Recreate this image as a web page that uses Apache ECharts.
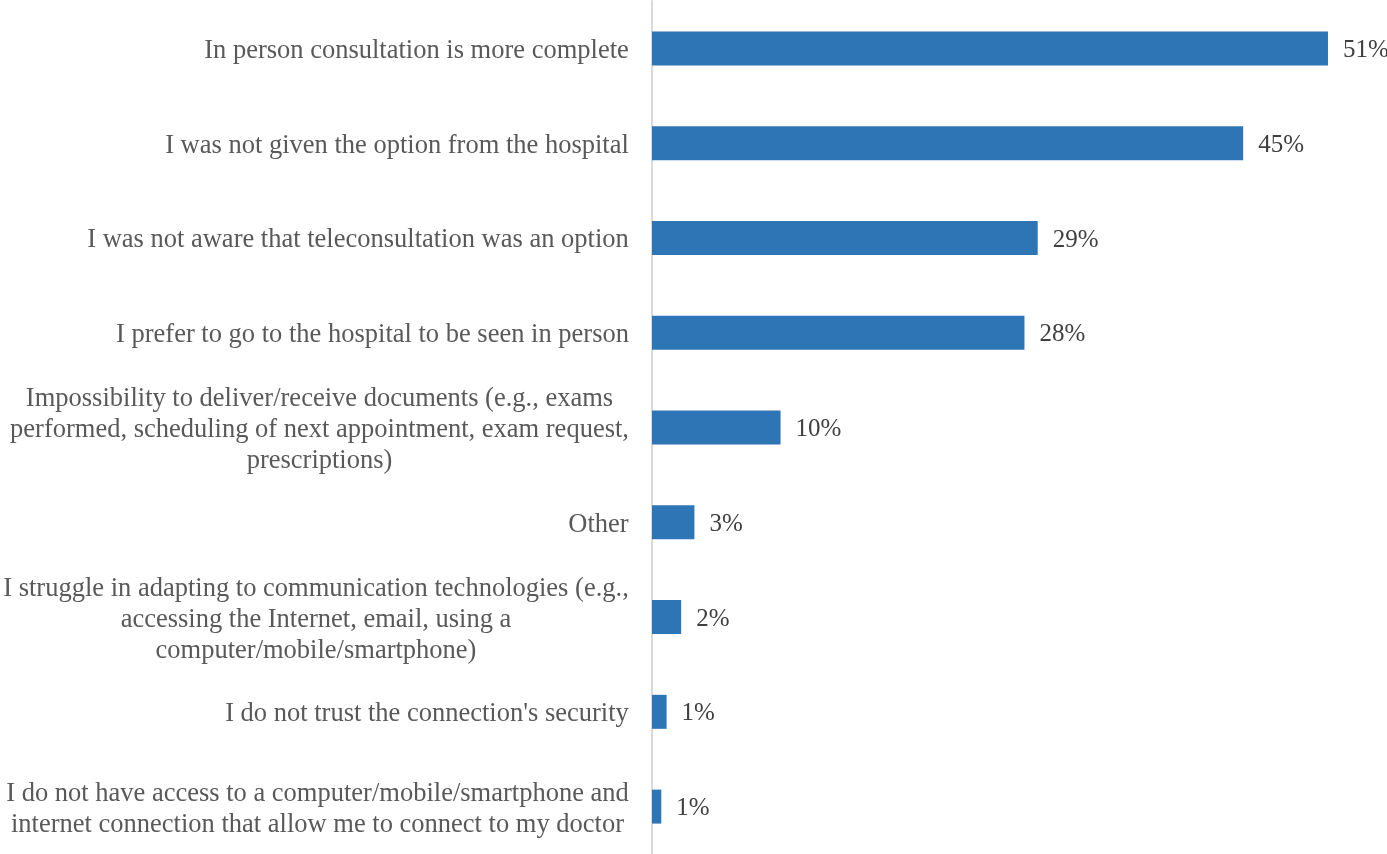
<!DOCTYPE html>
<html lang="en">
<head>
    <meta charset="utf-8"/>
    <title>Reasons for not using teleconsultation</title>
    <script src="https://cdn.jsdelivr.net/npm/echarts@6/dist/echarts.min.js"></script>
    <style>
        html, body { margin: 0; padding: 0; background: #fff; }
        #chart { width: 1387px; height: 854px; }
    </style>
</head>
<body>
<div id="chart"></div>
<script type="text/javascript">
    // categories, top to bottom
    var reasons = [
        'In person consultation is more complete',
        'I was not given the option from the hospital',
        'I was not aware that teleconsultation was an option',
        'I prefer to go to the hospital to be seen in person',
        'Impossibility to deliver/receive documents (e.g., exams\nperformed, scheduling of next appointment, exam request,\nprescriptions)',
        'Other',
        'I struggle in adapting to communication technologies (e.g.,\naccessing the Internet, email, using a\ncomputer/mobile/smartphone)',
        "I do not trust the connection's security",
        'I do not have access to a computer/mobile/smartphone and\ninternet connection that allow me to connect to my doctor'
    ];
    // share of respondents, %
    var shares = [51.0, 44.6, 29.1, 28.1, 9.7, 3.2, 2.2, 1.1, 0.7];

    var myChart = echarts.init(document.getElementById('chart'));

    var serif = '"Liberation Serif", "Times New Roman", serif';
    var catSize = 26.5;

    // multi-line labels: lines centred within the block, block right-aligned to the axis
    var ctx = document.createElement('canvas').getContext('2d');
    ctx.font = catSize + 'px ' + serif;
    var rich = {};
    reasons.forEach(function (r, i) {
        var w = 0;
        r.split('\n').forEach(function (l) { w = Math.max(w, ctx.measureText(l).width); });
        rich['c' + i] = {
            width: Math.ceil(w),
            align: 'center',
            color: '#595959',
            fontFamily: serif,
            fontSize: catSize,
            lineHeight: 31
        };
    });

    var option = {
        animation: false,
        grid: { left: 652, right: 6, top: 1, bottom: 0 },
        xAxis: {
            type: 'value',
            min: 0,
            max: 55,
            show: false
        },
        yAxis: {
            type: 'category',
            data: reasons,
            inverse: true,
            axisLine: { show: true, lineStyle: { color: '#d9d9d9', width: 2 } },
            axisTick: { show: false },
            axisLabel: {
                color: '#595959',
                fontFamily: serif,
                fontSize: catSize,
                lineHeight: 31,
                margin: 23,
                padding: [5, 0, 0, 0],
                rich: rich,
                formatter: function (v, i) {
                    return v.split('\n').map(function (l) {
                        return '{c' + i + '|' + l + '}';
                    }).join('\n');
                }
            }
        },
        series: [{
            type: 'bar',
            data: shares,
            barWidth: 34,
            itemStyle: { color: '#2e75b6' },
            label: {
                show: true,
                position: 'right',
                distance: 15,
                offset: [0, 2],
                color: '#404040',
                fontFamily: serif,
                fontSize: 25,
                formatter: function (p) { return Math.round(p.value) + '%'; }
            }
        }]
    };

    myChart.setOption(option, true);
</script>
</body>
</html>
